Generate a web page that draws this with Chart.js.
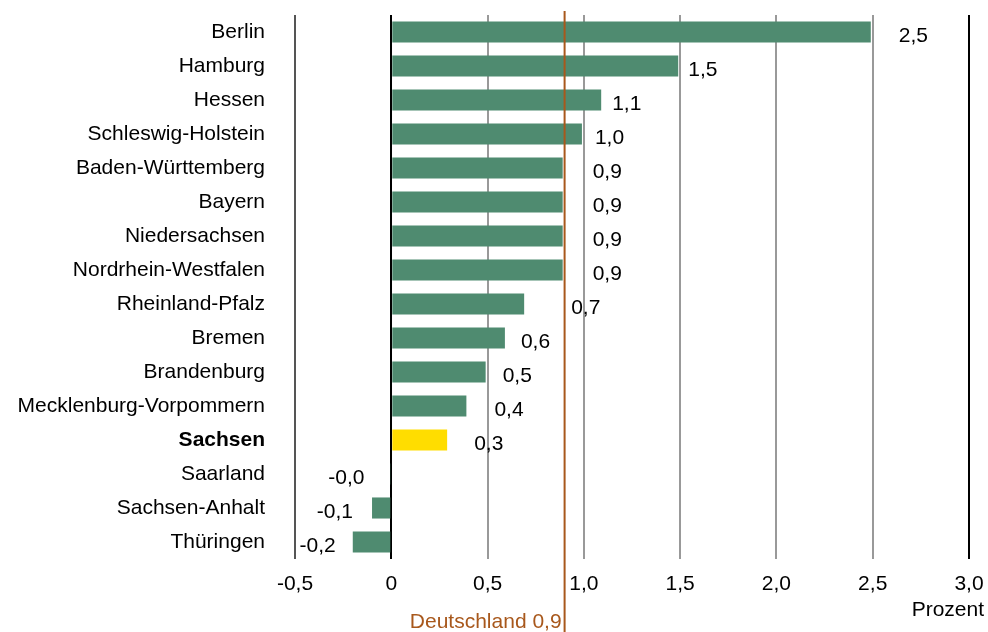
<!DOCTYPE html>
<html>
<head>
<meta charset="utf-8">
<script src="https://cdn.jsdelivr.net/npm/chart.js@4/dist/chart.umd.min.js"></script>
<style>
  html, body { margin: 0; padding: 0; background: #fff; }
  #wrap { width: 988px; height: 632px; position: relative; }
</style>
</head>
<body>
<div id="wrap"><canvas id="c" width="988" height="632"></canvas></div>
<script>
const categories = ["Berlin", "Hamburg", "Hessen", "Schleswig-Holstein", "Baden-Württemberg", "Bayern",
  "Niedersachsen", "Nordrhein-Westfalen", "Rheinland-Pfalz", "Bremen", "Brandenburg",
  "Mecklenburg-Vorpommern", "Sachsen", "Saarland", "Sachsen-Anhalt", "Thüringen"];
const values = [2.49, 1.49, 1.09, 0.99, 0.89, 0.89, 0.89, 0.89, 0.69, 0.59, 0.49, 0.39, 0.29, -0.004, -0.1, -0.2];
const valueLabels = ["2,5", "1,5", "1,1", "1,0", "0,9", "0,9", "0,9", "0,9", "0,7", "0,6", "0,5", "0,4", "0,3", "-0,0", "-0,1", "-0,2"];
const highlight = "Sachsen";
const germanyValue = 0.9;
const germanyLabel = "Deutschland 0,9";
const xTicks = [-0.5, 0, 0.5, 1.0, 1.5, 2.0, 2.5, 3.0];
const unitLabel = "Prozent";

const FONT = "'Liberation Sans', Arial, sans-serif";
const FS = 21;
const GREEN = "#4f8b70";
const YELLOW = "#ffdd00";
const BROWN = "#a8581c";
// label gap from bar end, in pixels (layout only)
const labelGaps = [28, 10, 11, 13, 30, 30, 30, 30, 47, 16, 17, 28, 27, 26, 19, 17];

const fmt = v => (v === 0 ? "0" : v.toFixed(1).replace(".", ","));

const overlay = {
  id: "overlay",
  afterDatasetsDraw(chart) {
    const ctx = chart.ctx;
    const xs = chart.scales.x;
    const meta = chart.getDatasetMeta(0);
    ctx.save();
    ctx.font = FS + "px " + FONT;
    ctx.fillStyle = "#000";
    ctx.textBaseline = "middle";
    const zero = xs.getPixelForValue(0);
    meta.data.forEach((bar, i) => {
      const v = values[i];
      if (v >= 0) {
        ctx.textAlign = "left";
        ctx.fillText(valueLabels[i], bar.x + labelGaps[i], bar.y + 4);
      } else {
        ctx.textAlign = "right";
        ctx.fillText(valueLabels[i], Math.min(bar.x, zero) - labelGaps[i], bar.y + 4);
      }
    });
    const gx = xs.getPixelForValue(germanyValue);
    ctx.strokeStyle = BROWN;
    ctx.lineWidth = 2;
    ctx.beginPath();
    ctx.moveTo(gx, 11);
    ctx.lineTo(gx, chart.height);
    ctx.stroke();
    ctx.fillStyle = BROWN;
    ctx.textAlign = "right";
    ctx.fillText(germanyLabel, gx - 3, 622);
    ctx.fillStyle = "#000";
    ctx.fillText(unitLabel, 984, 610);
    ctx.restore();
  }
};

new Chart(document.getElementById("c"), {
  type: "bar",
  data: {
    labels: categories,
    datasets: [{
      data: values,
      backgroundColor: categories.map(c => c === highlight ? YELLOW : GREEN),
      borderWidth: 0,
      barPercentage: 0.62,
      categoryPercentage: 1.0
    }]
  },
  options: {
    indexAxis: "y",
    responsive: false,
    animation: false,
    devicePixelRatio: 1,
    layout: { padding: { top: 15, right: 19, bottom: 0, left: 0 } },
    plugins: { legend: { display: false }, tooltip: { enabled: false } },
    scales: {
      x: {
        min: -0.5,
        max: 3.0,
        afterBuildTicks: s => { s.ticks = xTicks.map(v => ({ value: v })); },
        afterFit: s => { s.height = 73; s.paddingLeft = 0; s.paddingRight = 0; },
        border: { display: false },
        grid: {
          drawTicks: false,
          color: c => {
            const v = c.tick ? c.tick.value : null;
            if (v === 0 || v === 3) return "#000";
            if (v === -0.5) return "#555";
            return "#999";
          },
          lineWidth: 2
        },
        ticks: {
          padding: 13,
          color: "#000",
          font: { family: FONT, size: FS },
          callback: v => fmt(v)
        }
      },
      y: {
        afterFit: s => { s.width = 295; s.paddingTop = 0; s.paddingBottom = 0; },
        border: { display: false },
        grid: { display: false, drawTicks: false },
        ticks: {
          padding: 30,
          color: "#000",
          font: c => ({ family: FONT, size: FS, weight: (categories[c.index] === highlight ? "bold" : "normal") })
        }
      }
    }
  },
  plugins: [overlay]
});
</script>
</body>
</html>
